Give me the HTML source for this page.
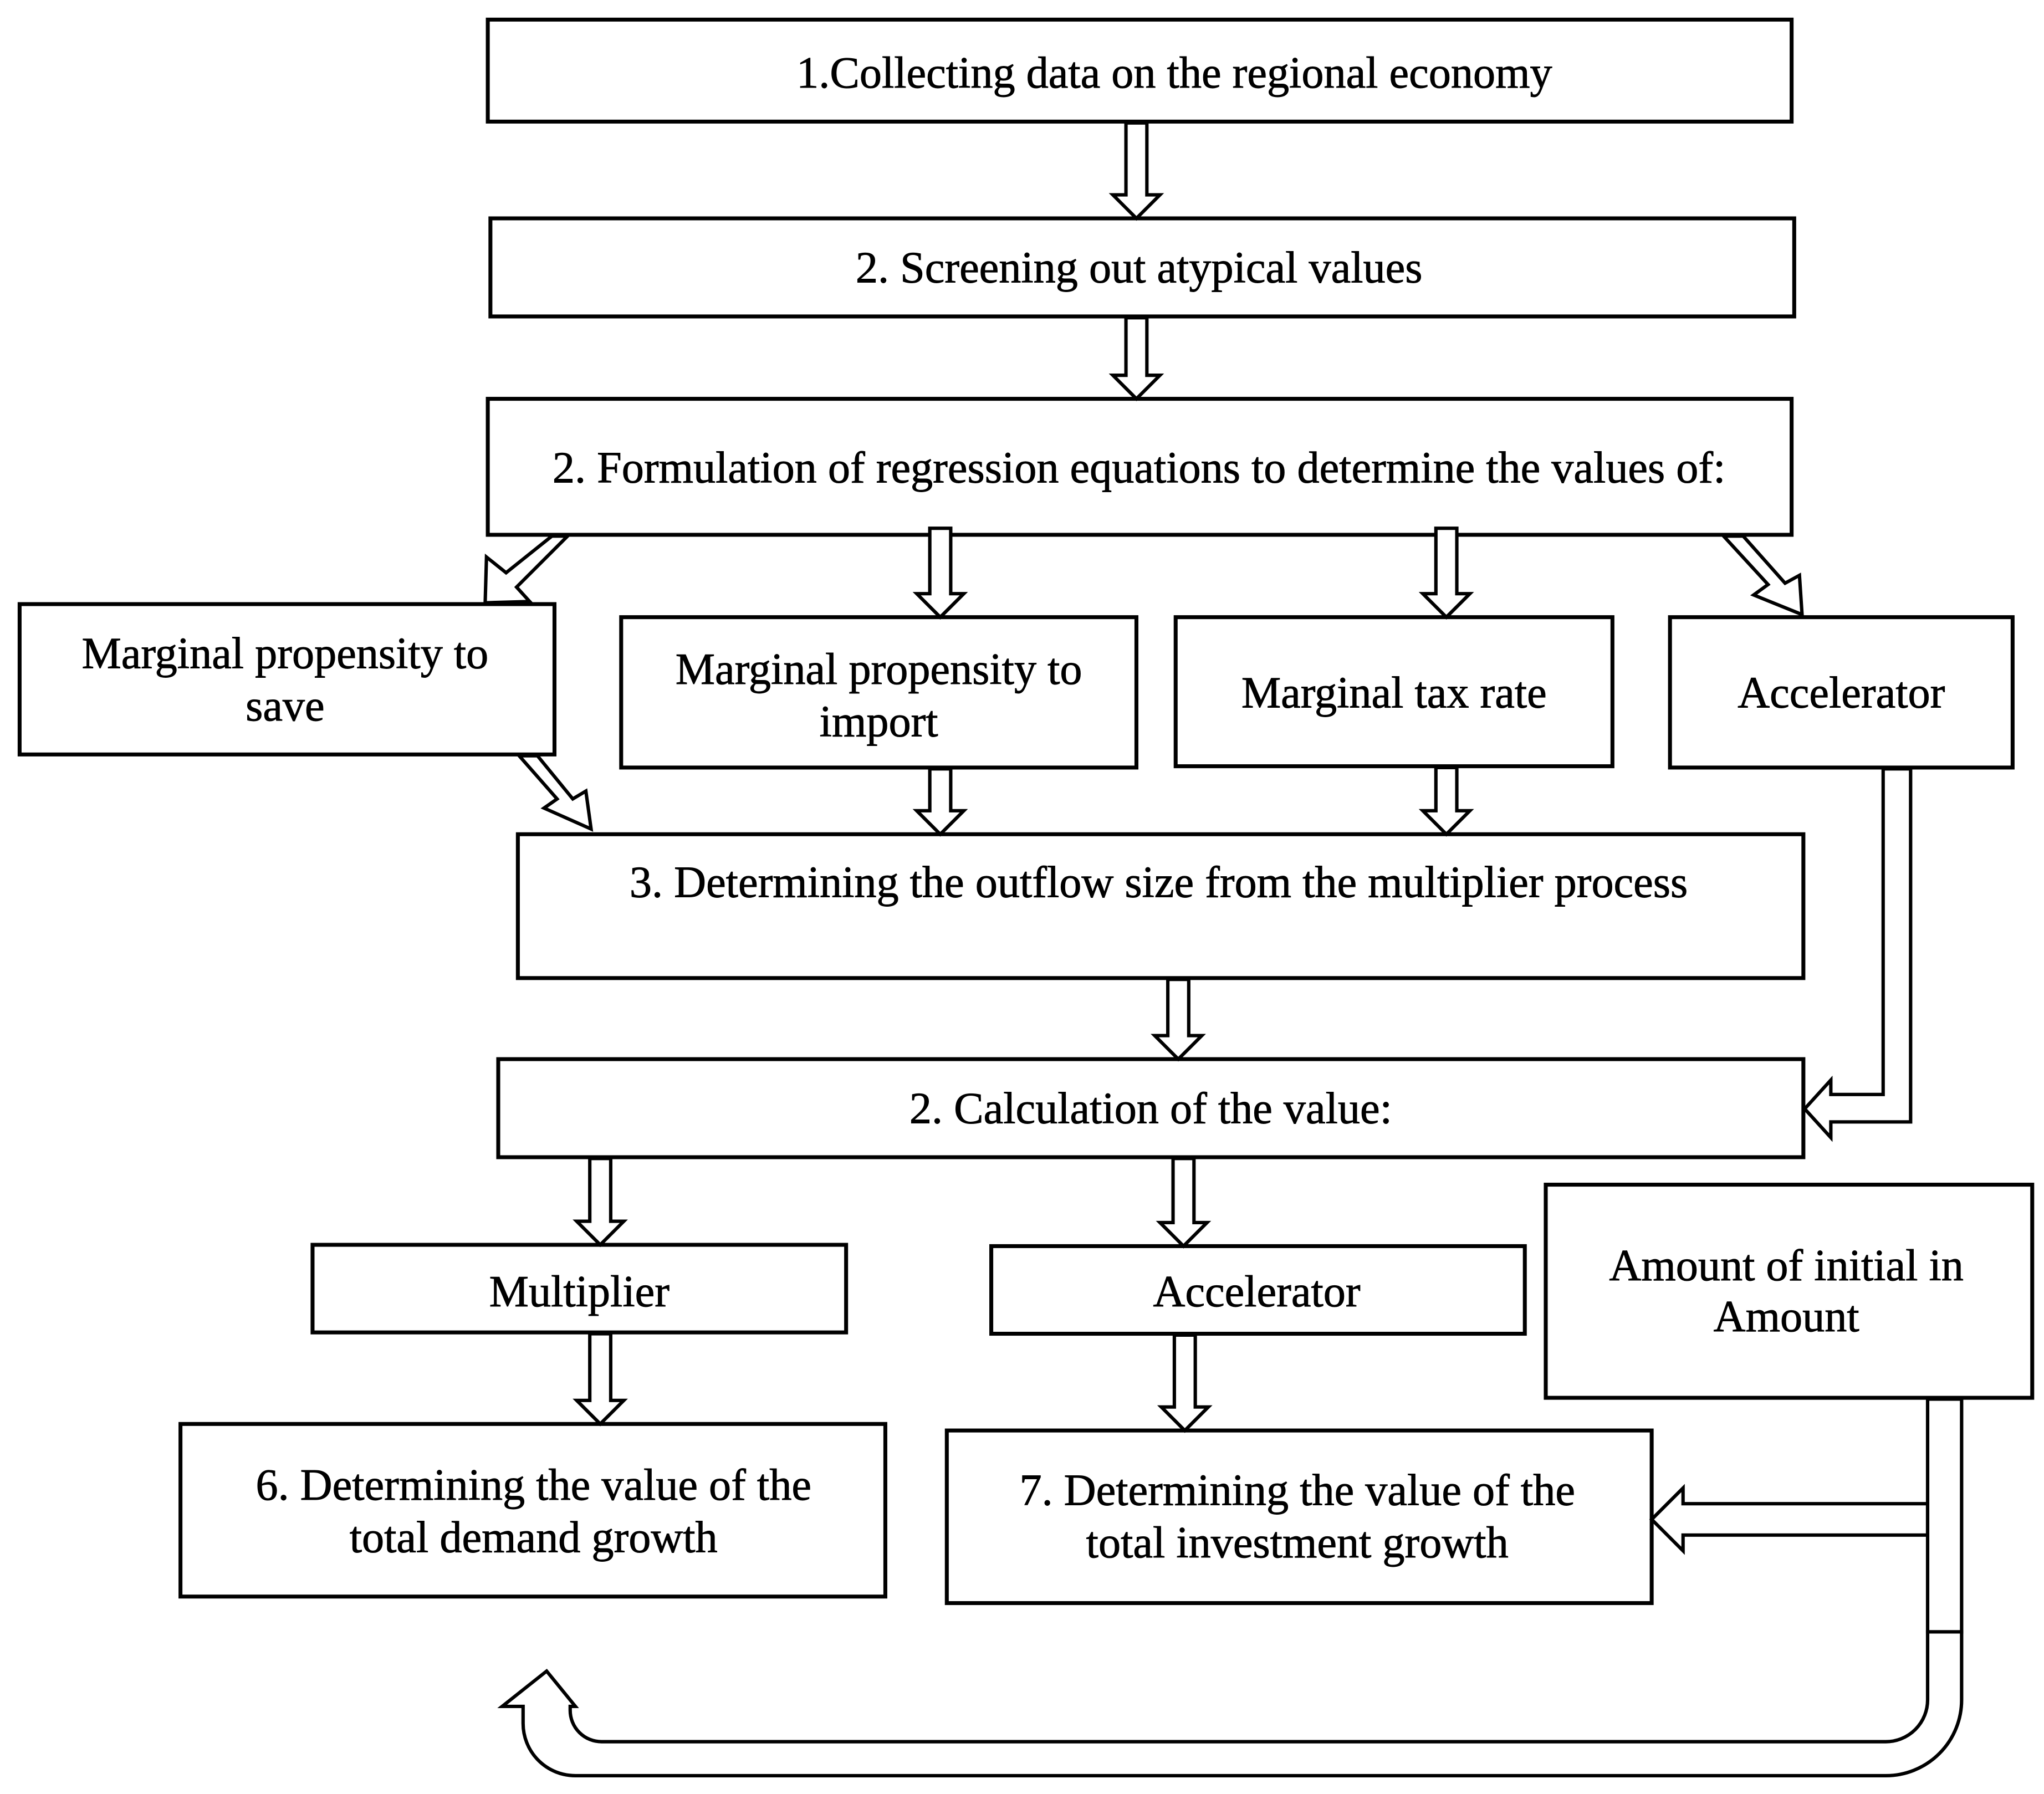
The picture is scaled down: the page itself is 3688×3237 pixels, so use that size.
<!DOCTYPE html>
<html><head><meta charset="utf-8"><style>
html,body{margin:0;padding:0;background:#fff;}
svg{display:block;}
text{font-family:"Liberation Serif",serif;font-size:34px;fill:#000;stroke:#000;stroke-width:0.4;text-anchor:middle;}
</style></head><body>
<svg width="3688" height="3237" viewBox="0 0 1563 1372" preserveAspectRatio="none" xmlns="http://www.w3.org/2000/svg">
<g fill="#fff" stroke="#000" stroke-width="3">
<rect x="373" y="15" width="997" height="78"/>
<rect x="375" y="167" width="997" height="75"/>
<rect x="373" y="305" width="997" height="104"/>
<rect x="15" y="462" width="409" height="115"/>
<rect x="475" y="472" width="394" height="115"/>
<rect x="899" y="472" width="334" height="114"/>
<rect x="1277" y="472" width="262" height="115"/>
<rect x="396" y="638" width="983" height="110"/>
<rect x="381" y="810" width="998" height="75"/>
<rect x="239" y="952" width="408" height="67"/>
<rect x="758" y="953" width="408" height="67"/>
<rect x="1182" y="906" width="372" height="163"/>
<rect x="138" y="1089" width="539" height="132"/>
<rect x="724" y="1094" width="539" height="132"/>
</g>
<g fill="#fff" stroke="#000" stroke-width="2.6" stroke-linejoin="miter">
<path d="M861,94 V149 H851 L869,167 L887,149 H877 V94 Z"/>
<path d="M861,243 V287 H851 L869,305 L887,287 H877 V243 Z"/>
<path d="M711,404 V454 H701 L719,472 L737,454 H727 V404 Z"/>
<path d="M1098,404 V454 H1088 L1106,472 L1124,454 H1114 V404 Z"/>
<path d="M711,588 V620 H701 L719,638 L737,620 H727 V588 Z"/>
<path d="M1098,587 V620 H1088 L1106,638 L1124,620 H1114 V587 Z"/>
<path d="M893,749 V792 H883 L901,810 L919,792 H909 V749 Z"/>
<path d="M451,886 V934 H441 L459,952 L477,934 H467 V886 Z"/>
<path d="M897,886 V935 H887 L905,953 L923,935 H913 V886 Z"/>
<path d="M451,1020 V1071 H441 L459,1089 L477,1071 H467 V1020 Z"/>
<path d="M898,1021 V1076 H888 L906,1094 L924,1076 H914 V1021 Z"/>
<path d="M422,410 L387,438 L372,426 L371,461 L405,460 L395,449 L434,410 Z"/>
<path d="M1318,410 L1352,447 L1341,455 L1378,470 L1376,440 L1365,446 L1333,410 Z"/>
<path d="M397,578 L426,611 L416,618 L452,634 L448,605 L438,611 L411,578 Z"/>
<path d="M1440,588 V837 H1400 V826 L1380,848 L1400,870 V858 H1461 V588 Z"/>
<path d="M1474,1150 H1287 V1138 L1263,1162 L1287,1186 V1174 H1474 Z"/>
<rect x="1474" y="1070" width="26" height="178"/>
<path d="M1474,1248 V1300 A32,32 0 0 1 1442,1332 H460 A24,24 0 0 1 436,1308 V1305 H440 L418,1278 L384,1305 H400 V1318 A40,40 0 0 0 440,1358 H1442 A58,58 0 0 0 1500,1300 V1248 Z"/>
</g>
<text x="898" y="67">1.Collecting data on the regional economy</text>
<text x="871" y="216">2.  Screening out atypical values</text>
<text x="871" y="369">2.  Formulation of regression equations to determine the values of:</text>
<text x="218" y="511">Marginal propensity to</text>
<text x="218" y="551">save</text>
<text x="672" y="523">Marginal propensity to</text>
<text x="672" y="563">import</text>
<text x="1066" y="541">Marginal tax rate</text>
<text x="1408" y="541">Accelerator</text>
<text x="886" y="686">3. Determining the outflow size from the multiplier process</text>
<text x="880" y="859">2.  Calculation of the value:</text>
<text x="443" y="999">Multiplier</text>
<text x="961" y="999">Accelerator</text>
<text x="1366" y="979">Amount of initial in</text>
<text x="1366" y="1018">Amount</text>
<text x="408" y="1147">6. Determining the value of the</text>
<text x="408" y="1187">total demand growth</text>
<text x="992" y="1151">7. Determining the value of the</text>
<text x="992" y="1191">total investment growth</text>
</svg>
</body></html>
